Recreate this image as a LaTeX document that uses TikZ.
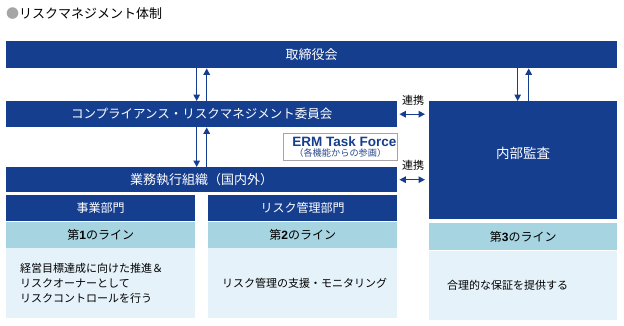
\documentclass[tikz,border=0pt]{standalone}
\usepackage{fontspec}
\setmainfont{Noto Sans CJK JP}
\newfontfamily\latinsf{Liberation Sans}
\usetikzlibrary{arrows.meta,positioning}

\definecolor{rmblue}{RGB}{22,62,143}
\definecolor{rmmid}{RGB}{167,212,225}
\definecolor{rmlight}{RGB}{229,242,249}
\definecolor{rmgray}{RGB}{165,165,165}

\tikzset{
  headbox/.style={fill=rmblue, text=white, inner sep=0pt, anchor=north west,
    font=\fontsize{13}{15}\selectfont},
  unitbox/.style={fill=rmblue, text=white, inner sep=0pt,
    minimum width=189pt, minimum height=26pt, font=\fontsize{12}{14}\selectfont},
  linebox/.style={fill=rmmid, text=black, inner sep=0pt,
    minimum width=189pt, minimum height=26pt, font=\fontsize{12}{14}\selectfont},
  bodybox/.style={fill=rmlight, text=black, inner xsep=14pt, inner ysep=0pt,
    text width=161pt, align=left, minimum height=70pt,
    font=\fontsize{11}{15}\selectfont},
  flow/.style={->, rmblue, line width=1.4pt},
  link/.style={<->, rmblue, line width=1.4pt, shorten <=2pt, shorten >=4pt},
  linktext/.style={midway, above=5pt, text=black, font=\fontsize{11}{13}\selectfont},
}
\newcommand{\lineno}[1]{{\latinsf\bfseries #1}}

\begin{document}
\begin{tikzpicture}[x=1pt, y=1pt, >={Triangle[length=6.5pt,width=6.5pt]}]
  \useasboundingbox (0,0) rectangle (624,-325);

  % title
  \node[anchor=west, inner sep=0pt, font=\fontsize{13}{15}\selectfont] (title) at (6,-14)
    {\textcolor{rmgray}{●}リスクマネジメント体制};

  % upper bodies
  \node[headbox, minimum width=611pt, minimum height=27pt] (board) at (6,-41) {取締役会};
  \node[headbox, minimum width=391pt, minimum height=26pt,
    font=\fontsize{12.5}{15}\selectfont] (comp) at (6,-101)
    {コンプライアンス・リスクマネジメント委員会};
  \node[headbox, minimum width=391pt, minimum height=25pt] (exec) at (6,-167)
    {業務執行組織（国内外）};
  \node[headbox, minimum width=188pt, minimum height=118pt, text depth=14pt,
    font=\fontsize{13.5}{15}\selectfont] (audit) at (429,-101) {内部監査};

  % task force
  \node[anchor=north west, fill=white, draw=rmgray, line width=0.6pt, inner sep=0pt,
    minimum width=114pt, minimum height=27pt, align=center, text=rmblue] (erm) at (283,-133)
    {\hspace*{8pt}{\latinsf\bfseries\fontsize{13.5}{12}\selectfont ERM Task Force}\\[-2.5pt]
     {\fontsize{9.2}{9}\selectfont\color{rmblue!80!gray}（各機能からの参画）}};

  % three lines
  \node[unitbox, anchor=north west] (biz) at (6,-195) {事業部門};
  \node[linebox, below=0pt of biz] (line1) {第\lineno{1}のライン};
  \node[bodybox, below=0pt of line1] (body1)
    {経営目標達成に向けた推進＆\\リスクオーナーとして\\リスクコントロールを行う};

  \node[unitbox, anchor=north west] (risk) at (208,-195) {リスク管理部門};
  \node[linebox, below=0pt of risk] (line2) {第\lineno{2}のライン};
  \node[bodybox, below=0pt of line2] (body2) {リスク管理の支援・モニタリング};

  \node[linebox, anchor=north west, minimum width=188pt, minimum height=27pt] (line3)
    at (429,-223) {第\lineno{3}のライン};
  \node[bodybox, below=0pt of line3, inner xsep=18pt, text width=152pt,
    minimum height=69pt] (body3) {合理的な保証を提供する};

  % reporting arrows
  \draw[flow] ([xshift=-5pt]comp.north |- board.south) -- ([xshift=-5pt]comp.north);
  \draw[flow] ([xshift=5pt]comp.north) -- ([xshift=5pt]comp.north |- board.south);
  \draw[flow] ([xshift=-5pt]comp.south) -- ([xshift=-5pt]exec.north);
  \draw[flow] ([xshift=5pt]exec.north) -- ([xshift=5pt]comp.south);
  \draw[flow] ([xshift=-5.5pt]audit.north |- board.south) -- ([xshift=-5.5pt]audit.north);
  \draw[flow] ([xshift=5.5pt]audit.north) -- ([xshift=5.5pt]audit.north |- board.south);

  % cooperation
  \draw[link] (comp.east) -- (comp.east -| audit.west) node[linktext] {連携};
  \draw[link] (exec.east) -- (exec.east -| audit.west) node[linktext] {連携};
\end{tikzpicture}
\end{document}
